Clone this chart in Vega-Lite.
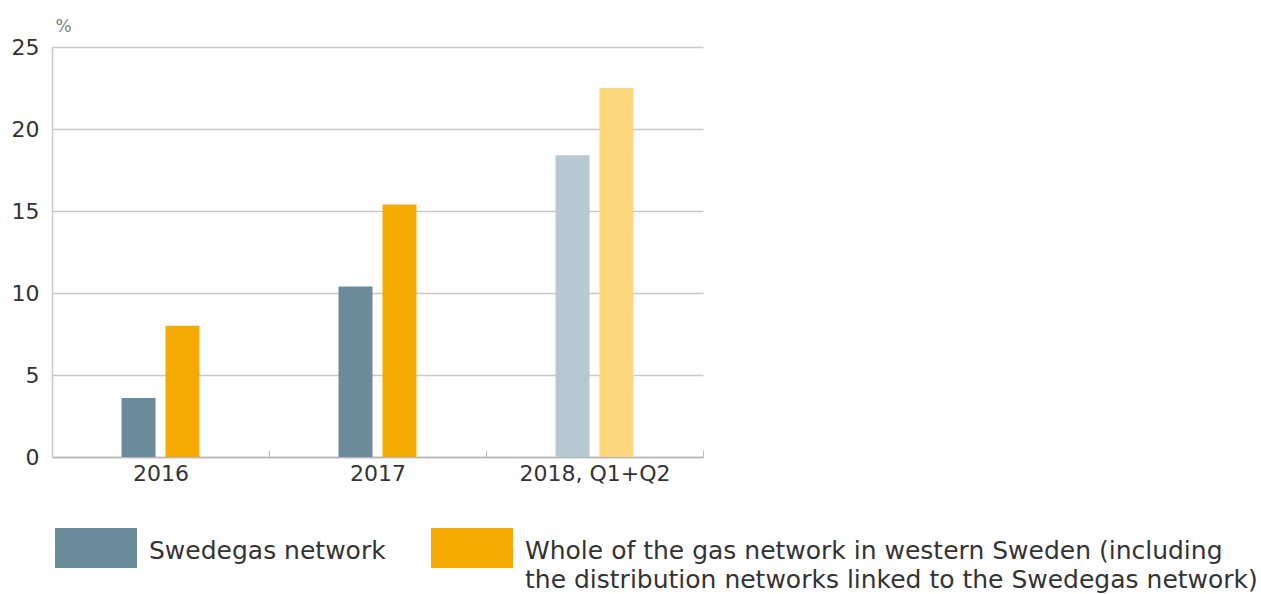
{
  "$schema": "https://vega.github.io/schema/vega-lite/v6.json",
  "autosize": {"type": "none"},
  "padding": {"left": 52, "top": 47, "right": 558, "bottom": 137},
  "width": 651,
  "height": 410,
  "background": "white",
  "config": {
    "font": "DejaVu Sans",
    "view": {"stroke": null}
  },
  "data": {
    "values": [
      {"year": "2016", "series": "Swedegas network", "value": 3.6},
      {"year": "2016", "series": "Whole of the gas network in western Sweden", "value": 8.0},
      {"year": "2017", "series": "Swedegas network", "value": 10.4},
      {"year": "2017", "series": "Whole of the gas network in western Sweden", "value": 15.4},
      {"year": "2018, Q1+Q2", "series": "Swedegas network", "value": 18.4},
      {"year": "2018, Q1+Q2", "series": "Whole of the gas network in western Sweden", "value": 22.5}
    ]
  },
  "mark": {"type": "bar"},
  "encoding": {
    "x": {
      "field": "year",
      "type": "nominal",
      "sort": null,
      "scale": {"paddingInner": 0, "paddingOuter": 0},
      "axis": {
        "title": null,
        "labelAngle": 0,
        "labelFontSize": 22,
        "labelColor": "#333333",
        "labelPadding": 13,
        "domainColor": "#b5b5b5",
        "domainWidth": 1.5,
        "tickColor": "#b5b5b5",
        "tickSize": -7,
        "tickBand": "extent",
        "grid": false
      }
    },
    "xOffset": {
      "field": "series",
      "type": "nominal",
      "scale": {
        "domain": ["left", "Swedegas network", "Whole of the gas network in western Sweden", "right"],
        "paddingInner": 0.227,
        "paddingOuter": 0.58
      }
    },
    "y": {
      "field": "value",
      "type": "quantitative",
      "scale": {"domain": [0, 25], "nice": false},
      "axis": {
        "values": [0, 5, 10, 15, 20, 25],
        "title": "%",
        "titleAngle": 0,
        "titleX": 3,
        "titleY": -16,
        "titleAlign": "left",
        "titleBaseline": "alphabetic",
        "titleFontSize": 17,
        "titleFontWeight": "normal",
        "titleColor": "#808080",
        "labelFontSize": 22,
        "labelColor": "#333333",
        "labelPadding": 13,
        "ticks": false,
        "domainColor": "#c8c8c8",
        "domainWidth": 1.5,
        "gridColor": "#c8c8c8",
        "gridWidth": 1.5
      }
    },
    "color": {
      "condition": [
        {"test": "datum.year === '2018, Q1+Q2' && datum.series === 'Swedegas network'", "value": "#b7c8d2"},
        {"test": "datum.year === '2018, Q1+Q2' && datum.series !== 'Swedegas network'", "value": "#fdd67e"}
      ],
      "field": "series",
      "type": "nominal",
      "scale": {
        "domain": ["Swedegas network", "Whole of the gas network in western Sweden"],
        "range": ["#6b8b9a", "#f4aa00"]
      },
      "legend": {
        "title": null,
        "orient": "none",
        "legendX": 3,
        "legendY": 460,
        "direction": "horizontal",
        "padding": 0,
        "symbolType": "M-1,-0.488H1V0.488H-1Z",
        "symbolSize": 6724,
        "symbolStrokeWidth": 0,
        "labelFontSize": 25,
        "labelColor": "#333333",
        "labelOffset": 12,
        "labelLimit": 900,
        "labelBaseline": "top",
        "columnPadding": 45,
        "labelExpr": "datum.label === 'Swedegas network' ? ['Swedegas network', ' '] : ['Whole of the gas network in western Sweden (including', 'the distribution networks linked to the Swedegas network)']",
        "encode": {
          "labels": {"update": {"dy": {"value": -9}, "lineHeight": {"value": 29}}}
        }
      }
    }
  }
}
